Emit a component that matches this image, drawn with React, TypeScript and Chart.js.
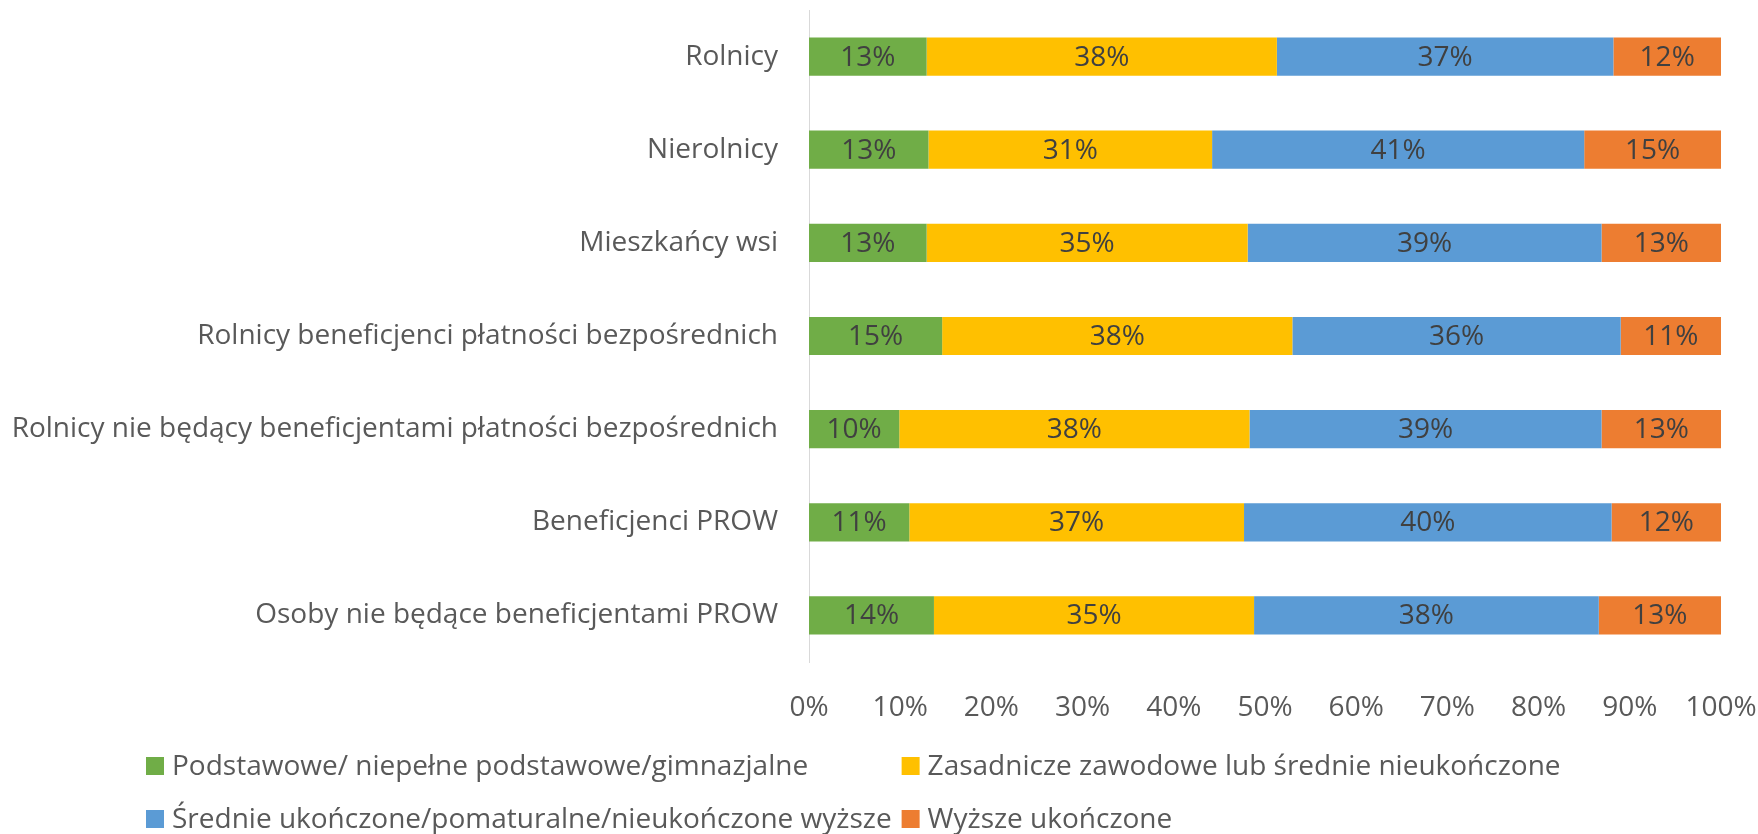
import React, { useEffect, useRef } from "react";
import { Chart, registerables } from "chart.js";

Chart.register(...registerables);

const categories = [
  "Rolnicy",
  "Nierolnicy",
  "Mieszkańcy wsi",
  "Rolnicy beneficjenci płatności bezpośrednich",
  "Rolnicy nie będący beneficjentami płatności bezpośrednich",
  "Beneficjenci PROW",
  "Osoby nie będące beneficjentami PROW",
];

const seriesNames = [
  "Podstawowe/ niepełne podstawowe/gimnazjalne",
  "Zasadnicze zawodowe lub średnie nieukończone",
  "Średnie ukończone/pomaturalne/nieukończone wyższe",
  "Wyższe ukończone",
];

const podstawowe = [12.9, 13.1, 12.9, 14.6, 9.9, 11.0, 13.7];
const zasadnicze = [38.4, 31.1, 35.2, 38.4, 38.4, 36.7, 35.1];
const srednie = [36.9, 40.8, 38.8, 36.0, 38.6, 40.3, 37.8];
const wyzsze = [11.8, 15.0, 13.1, 11.0, 13.1, 12.0, 13.4];

const xTicks = [0, 10, 20, 30, 40, 50, 60, 70, 80, 90, 100];

const COLORS = ["#70AD47", "#FFC000", "#5B9BD5", "#ED7D31"];
const FONT = "'Open Sans', Lato, sans-serif";
const FSIZE = 28;

const dataLabelPlugin = {
  id: "segLabels",
  afterDatasetsDraw(chart: any) {
    const ctx = chart.ctx;
    ctx.save();
    ctx.font = `${FSIZE}px ${FONT}`;
    ctx.fillStyle = "#404040";
    ctx.textAlign = "center";
    ctx.textBaseline = "middle";
    chart.data.datasets.forEach((ds: any, di: number) => {
      const meta = chart.getDatasetMeta(di);
      meta.data.forEach((el: any, i: number) => {
        const p = el.getProps(["x", "y", "base"], true);
        const cx = (p.x + p.base) / 2;
        ctx.fillText(Math.round(ds.data[i]) + "%", cx, p.y + 1);
      });
    });
    ctx.restore();
  },
};

const legendPlugin = {
  id: "gridLegend",
  afterDraw(chart: any) {
    const ctx = chart.ctx;
    ctx.save();
    ctx.font = `${FSIZE}px ${FONT}`;
    ctx.textBaseline = "middle";
    ctx.textAlign = "left";
    const startX = 146;
    const rowsY = [766, 819];
    const box = 18;
    const gap = 8;
    const colGap = 10;
    const ds = chart.data.datasets;
    const col0 = [0, 2].filter((i) => i < ds.length);
    const col0W = Math.max(...col0.map((i) => ctx.measureText(ds[i].label).width));
    const colX = [startX, startX + box + gap + col0W + colGap];
    ds.forEach((d: any, i: number) => {
      const row = Math.floor(i / 2);
      const col = i % 2;
      const x = colX[col];
      const y = rowsY[row];
      ctx.fillStyle = d.backgroundColor;
      ctx.fillRect(x, y - box / 2, box, box);
      ctx.fillStyle = "#595959";
      ctx.fillText(d.label, x + box + gap, y + 1);
    });
    ctx.restore();
  },
};

export default function App() {
  const ref = useRef<HTMLCanvasElement | null>(null);
  useEffect(() => {
    if (!ref.current) return;
    const values = [podstawowe, zasadnicze, srednie, wyzsze];
    const chart = new Chart(ref.current, {
      type: "bar",
      data: {
        labels: categories,
        datasets: seriesNames.map((name, i) => ({
          label: name,
          data: values[i],
          backgroundColor: COLORS[i],
          borderWidth: 0,
          barPercentage: 0.41,
          categoryPercentage: 1,
        })),
      },
      options: {
        indexAxis: "y",
        animation: false,
        responsive: false,
        maintainAspectRatio: false,
        layout: { padding: { left: 0, right: 37, top: 10, bottom: 0 } },
        plugins: {
          legend: { display: false },
          tooltip: { enabled: false },
        },
        scales: {
          x: {
            stacked: true,
            min: 0,
            max: 100,
            afterBuildTicks(scale: any) {
              scale.ticks = xTicks.map((v) => ({ value: v }));
            },
            afterFit(scale: any) {
              scale.height = 172;
              scale.paddingLeft = 0;
              scale.paddingRight = 0;
              scale.paddingTop = 0;
              scale.paddingBottom = 0;
            },
            grid: { display: false, drawTicks: false },
            border: { display: false },
            ticks: {
              padding: 29,
              color: "#595959",
              font: { family: FONT, size: FSIZE },
              callback: (v: any) => v + "%",
              maxRotation: 0,
              autoSkip: false,
            },
          },
          y: {
            stacked: true,
            afterFit(scale: any) {
              scale.width = 809;
              scale.paddingLeft = 0;
              scale.paddingRight = 0;
              scale.paddingTop = 0;
              scale.paddingBottom = 0;
            },
            grid: { display: false, drawTicks: false },
            border: { display: true, color: "#D9D9D9", width: 1 },
            ticks: {
              padding: 31,
              color: "#595959",
              font: { family: FONT, size: FSIZE },
              autoSkip: false,
            },
          },
        },
      },
      plugins: [dataLabelPlugin, legendPlugin],
    });
    return () => chart.destroy();
  }, []);
  return (
    <div style={{ position: "fixed", left: 0, top: 0, width: 1758, height: 834, background: "#fff" }}>
      <canvas ref={ref} width={1758} height={834} />
    </div>
  );
}
